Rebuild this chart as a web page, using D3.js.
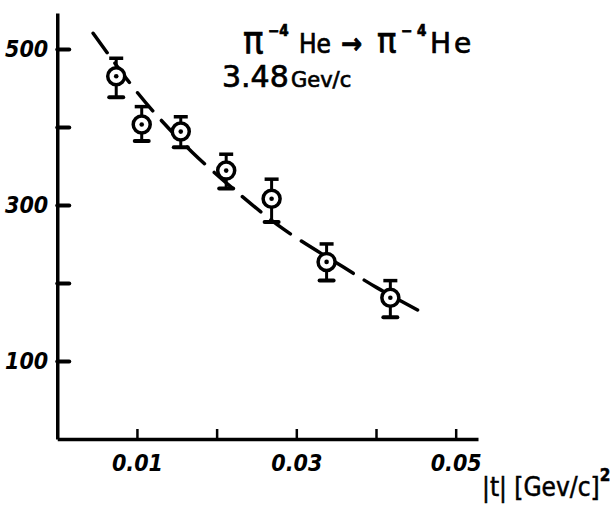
<!DOCTYPE html>
<html><head><meta charset="utf-8">
<script src="https://cdn.jsdelivr.net/npm/d3@7"></script>
<style>
body{margin:0;background:#fff;}
svg{display:block;}
</style></head>
<body>
<svg id="c" width="615" height="507"></svg>
<script>
const tValues = [0.0074, 0.0106, 0.0155, 0.0212, 0.0269, 0.0338, 0.0418];
const sigma   = [465, 403, 394, 344, 308, 227, 181];
const errLow  = [438, 382, 374, 321, 278, 203, 156];
const errHigh = [488, 426, 413, 365, 333, 250, 203];
const curveT  = [0.0045, 0.0089, 0.0123, 0.0169, 0.0225, 0.0284, 0.0358, 0.0401, 0.0460];
const curveS  = [520, 459, 417, 368, 317, 269, 221, 194, 161];
const xTicks = [0.01, 0.02, 0.03, 0.04, 0.05];
const xTickLabels = ["0.01", "", "0.03", "", "0.05"];
const yTicks = [100, 200, 300, 400, 500];
const yTickLabels = ["100", "", "300", "", "500"];

const svg = d3.select("#c");
const x = d3.scaleLinear().domain([0, 0.0528]).range([57.25, 478]);
const y = d3.scaleLinear().domain([0, 546]).range([439, 13]);
const ink = "#000";
const tickFont = "'DejaVu Sans Condensed','Liberation Sans Narrow',sans-serif";

const xAxis = d3.axisBottom(x).tickValues(xTicks).tickSizeInner(-10).tickSizeOuter(0)
  .tickPadding(24).tickFormat((d,i)=>xTickLabels[i]);
const gx = svg.append("g").attr("transform", `translate(0,${y(0)})`).call(xAxis);
gx.select(".domain").attr("stroke", ink).attr("stroke-width", 3.5);
gx.selectAll(".tick line").attr("stroke", ink).attr("stroke-width", 2.5);
gx.selectAll(".tick text").attr("fill", ink).style("font-family", tickFont)
  .style("font-size", "23px").style("font-weight", "bold").style("font-style", "italic")
  .attr("dy", "0.35em");

const yAxis = d3.axisLeft(y).tickValues(yTicks).tickSizeInner(-12).tickSizeOuter(0)
  .tickPadding(9).tickFormat((d,i)=>yTickLabels[i]);
const gy = svg.append("g").attr("transform", `translate(${x(0)},0)`).call(yAxis);
gy.select(".domain").attr("stroke", ink).attr("stroke-width", 3.5);
gy.selectAll(".tick line").attr("stroke", ink).attr("stroke-width", 4).attr("stroke-linecap","round");
gy.selectAll(".tick text").attr("fill", ink).style("font-family", tickFont)
  .style("font-size", "23px").style("font-weight", "bold").style("font-style", "italic");

// dashed curve
const line = d3.line().x(d=>x(d[0])).y(d=>y(d[1])).curve(d3.curveCatmullRom);
svg.append("path").datum(curveT.map((t,i)=>[t, curveS[i]]))
  .attr("d", line).attr("fill", "none").attr("stroke", ink)
  .attr("stroke-width", 3.5).attr("stroke-dasharray", "24,13").attr("stroke-linecap","round");

// data points
const pts = tValues.map((t,i)=>({t, s:sigma[i], lo:errLow[i], hi:errHigh[i]}));
const gp = svg.append("g").selectAll("g").data(pts).join("g");
gp.append("line").attr("x1", d=>x(d.t)).attr("x2", d=>x(d.t))
  .attr("y1", d=>y(d.hi)).attr("y2", d=>y(d.lo)).attr("stroke", ink).attr("stroke-width", 3);
gp.append("line").attr("x1", d=>x(d.t)-7).attr("x2", d=>x(d.t)+7)
  .attr("y1", d=>y(d.hi)).attr("y2", d=>y(d.hi)).attr("stroke", ink).attr("stroke-width", 3.5);
gp.append("line").attr("x1", d=>x(d.t)-7).attr("x2", d=>x(d.t)+7)
  .attr("y1", d=>y(d.lo)).attr("y2", d=>y(d.lo)).attr("stroke", ink).attr("stroke-width", 4)
  .attr("stroke-linecap","round");
gp.append("circle").attr("cx", d=>x(d.t)).attr("cy", d=>y(d.s)).attr("r", 8.5)
  .attr("fill", "#fff").attr("stroke", ink).attr("stroke-width", 3.5);
gp.append("circle").attr("cx", d=>x(d.t)).attr("cy", d=>y(d.s)).attr("r", 2.3).attr("fill", ink);

// title
const titleFont = "'DejaVu Sans',sans-serif";
const condFont = "'DejaVu Sans Condensed',sans-serif";
const t1 = svg.append("text").attr("y", 53).attr("fill", ink).attr("stroke", ink).attr("stroke-width", 0.7)
  .style("font-family", condFont).style("font-size", "26px");
t1.append("tspan").attr("x", 243).text("π").style("font-size","38px");
t1.append("tspan").attr("x", 268).text("−4").attr("dy", -17).style("font-size", "15px").style("font-weight","bold");
t1.append("tspan").attr("x", 299).text("He").attr("dy", 17);
t1.append("tspan").attr("x", 341).text("→").style("font-weight","bold").style("font-size","28px");
t1.append("tspan").attr("x", 377).text("π").style("font-size","36px");
t1.append("tspan").attr("x", 401).text("− 4").attr("dy", -17).style("font-size", "15px").style("font-weight","bold");
t1.append("tspan").attr("x", 430).text("He").attr("dy", 17).style("font-family", titleFont)
  .style("font-size","28px").style("letter-spacing","3px");

const t2 = svg.append("text").attr("y", 87).attr("fill", ink).attr("stroke", ink).attr("stroke-width", 0.7)
  .style("font-family", titleFont).style("font-size", "30px");
t2.append("tspan").attr("x", 222).text("3.48");
t2.append("tspan").attr("x", 291).text("Gev/c").style("font-size", "21px");

// x axis title
const t3 = svg.append("text").attr("x", 482).attr("y", 496).attr("fill", ink)
  .attr("stroke", ink).attr("stroke-width", 0.5)
  .style("font-family", condFont).style("font-size", "26px");
t3.append("tspan").text("|t| [Gev/c]");
t3.append("tspan").text("2").attr("dy", -15).style("font-size","17px").style("font-weight","bold");
</script>
</body></html>
